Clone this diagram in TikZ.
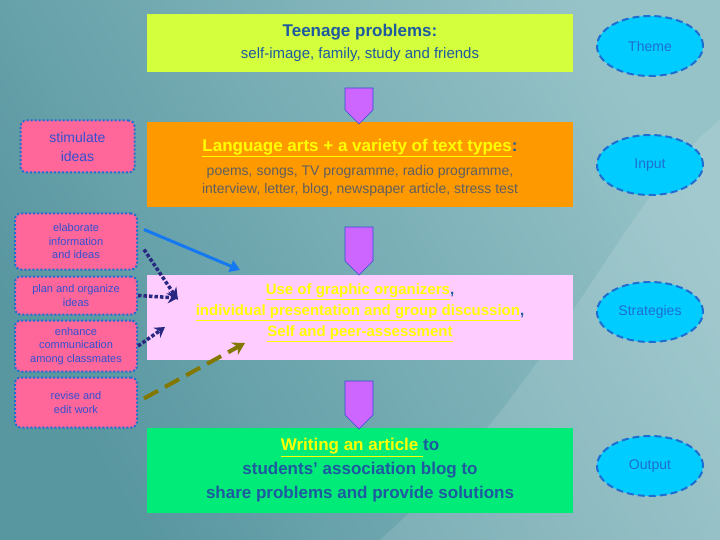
\documentclass[tikz,border=0pt]{standalone}
\usepackage{fontspec}
\setmainfont{Liberation Sans}
\usetikzlibrary{shapes.geometric,shapes.arrows,arrows.meta}
\definecolor{bgA}{RGB}{88,150,160}
\definecolor{bgB}{RGB}{150,195,200}
\definecolor{ylg}{RGB}{212,255,60}
\definecolor{orng}{RGB}{255,153,0}
\definecolor{lpink}{RGB}{255,204,255}
\definecolor{grn}{RGB}{0,235,120}
\definecolor{hpink}{RGB}{255,102,153}
\definecolor{cyanel}{RGB}{0,204,255}
\definecolor{txblue}{RGB}{30,90,160}
\definecolor{lblue}{RGB}{50,80,210}
\definecolor{elblue}{RGB}{30,110,210}
\definecolor{uyel}{RGB}{255,255,0}
\definecolor{gry}{RGB}{95,95,95}
\definecolor{purp}{RGB}{204,102,255}
\definecolor{navy}{RGB}{40,40,130}
\definecolor{olive}{RGB}{130,120,0}
\definecolor{arblue}{RGB}{20,120,240}
\newcommand{\myul}[1]{\underline{#1}}
\newcommand{\fA}{\fontsize{17}{22}\selectfont\bfseries}
\newcommand{\fB}{\fontsize{14}{18}\selectfont}
\newcommand{\fC}{\fontsize{15}{21}\selectfont\bfseries}
\newcommand{\fD}{\fontsize{17}{24}\selectfont\bfseries}
\begin{document}
\begin{tikzpicture}[x=1pt,y=-1pt,
  mainbox/.style={draw=none,minimum width=426pt,align=center,inner sep=0pt},
  oval/.style={ellipse,fill=cyanel,draw=elblue,dash pattern=on 7pt off 4pt,line width=2pt,minimum width=106pt,minimum height=60pt,text=elblue,font=\fontsize{14}{16}\selectfont},
  sidebox/.style={rounded corners=6pt,fill=hpink,draw=elblue,dotted,line width=2pt,minimum width=122pt,align=center,text=lblue,font=\fontsize{11}{13.5}\selectfont,inner sep=1pt},
  downarr/.style={single arrow,shape border rotate=270,fill=purp,draw=lblue,line width=0.6pt,minimum width=28pt,single arrow head extend=0pt,single arrow tip angle=90,inner sep=0pt}]
\useasboundingbox (0,0) rectangle (720,540);
\shade[left color=bgA,right color=bgB,shading angle=120] (0,0) rectangle (720,540);
\fill[white,opacity=0.12] (380,540) .. controls (560,380) and (620,200) .. (720,120) -- (720,540) -- cycle;
% main boxes
\node[mainbox,fill=ylg,minimum height=58pt,text=txblue,font=\fontsize{15}{22}\selectfont] (theme) at (360,43)
 {\fA Teenage problems:\\\fontsize{15}{22}\selectfont self-image, family, study and friends};
\node[mainbox,fill=orng,minimum height=85pt,font=\fontsize{14}{18}\selectfont] (input) at (360,164.5) {};
\node[align=center,font=\fontsize{14}{18}\selectfont,inner sep=0pt] (inputtxt) at ([yshift=-3pt]input.center)
 {\fA\textcolor{uyel}{\myul{Language arts + a variety of text types}}\textcolor{txblue}{:}\\[6pt]
  \fB\textcolor{gry}{poems, songs, TV programme, radio programme,}\\\fB\textcolor{gry}{interview, letter, blog, newspaper article, stress test}};
\node[mainbox,fill=lpink,minimum height=85pt] (strat) at (360,317.5) {};
\node[align=center,font=\fontsize{15}{21}\selectfont,inner sep=0pt] (strattxt) at ([yshift=5pt]strat.center)
 {\fC\textcolor{uyel}{\myul{Use of graphic organizers}}\textcolor{txblue}{,}\\\fC\textcolor{uyel}{\myul{individual presentation and group discussion}}\textcolor{txblue}{,}\\\fC\textcolor{uyel}{\myul{Self and peer-assessment}}};
\node[mainbox,fill=grn,minimum height=85pt,text=txblue,font=\fontsize{17}{24}\selectfont] (out) at (360,470.5)
 {\fD\textcolor{uyel}{\myul{Writing an article }}to\\\fD students' association blog to\\\fD share problems and provide solutions};
% down arrows
\node[downarr,minimum height=36pt] (d1) at (359,99) {};
\node[downarr,minimum height=48pt] (d2) at (359,244) {};
\node[downarr,minimum height=48pt] (d3) at (359,398) {};
% ovals
\node[oval] (o1) at (650,46) {Theme};
\node[oval] (o2) at (650,165) {Input};
\node[oval] (o3) at (650,312) {Strategies};
\node[oval] (o4) at (650,466) {Output};
% side boxes
\node[sidebox,minimum width=114pt,minimum height=52pt,font=\fontsize{14}{19}\selectfont] (s1) at (77.5,146.5) {stimulate\\ideas};
\node[sidebox,minimum height=56pt] (s2) at (76,241.5) {elaborate\\information\\and ideas};
\node[sidebox,minimum height=38pt] (s3) at (76,295.5) {plan and organize\\ideas};
\node[sidebox,minimum height=51pt] (s4) at (76,346) {enhance\\communication\\among classmates};
\node[sidebox,minimum height=50pt] (s5) at (76,402.5) {revise and\\edit work};
% connectors
\coordinate (e1) at (240,270);
\coordinate (e2) at (178,300);
\coordinate (e3) at (178,298);
\coordinate (e4) at (165,327);
\coordinate (e5) at (245,343);
\draw[arblue,line width=3pt,-{Triangle[length=10pt,width=12pt]}] (s2.east) ++(6,-12) -- (e1);
\draw[navy,line width=3.5pt,dotted,-{Stealth[length=12pt,width=12pt]}] (s2.east) ++(6,8) -- (e2);
\draw[navy,line width=3.5pt,dotted,-{Stealth[length=10pt,width=12pt]}] (s3.east) -- (e3);
\draw[navy,line width=3.5pt,dotted,-{Stealth[length=10pt,width=12pt]}] (s4.east) -- (e4);
\draw[olive,line width=4pt,dash pattern=on 16pt off 8pt,-{Stealth[length=12pt,width=14pt]}] (s5.east) ++(6,-4) -- (e5);
\end{tikzpicture}
\end{document}
